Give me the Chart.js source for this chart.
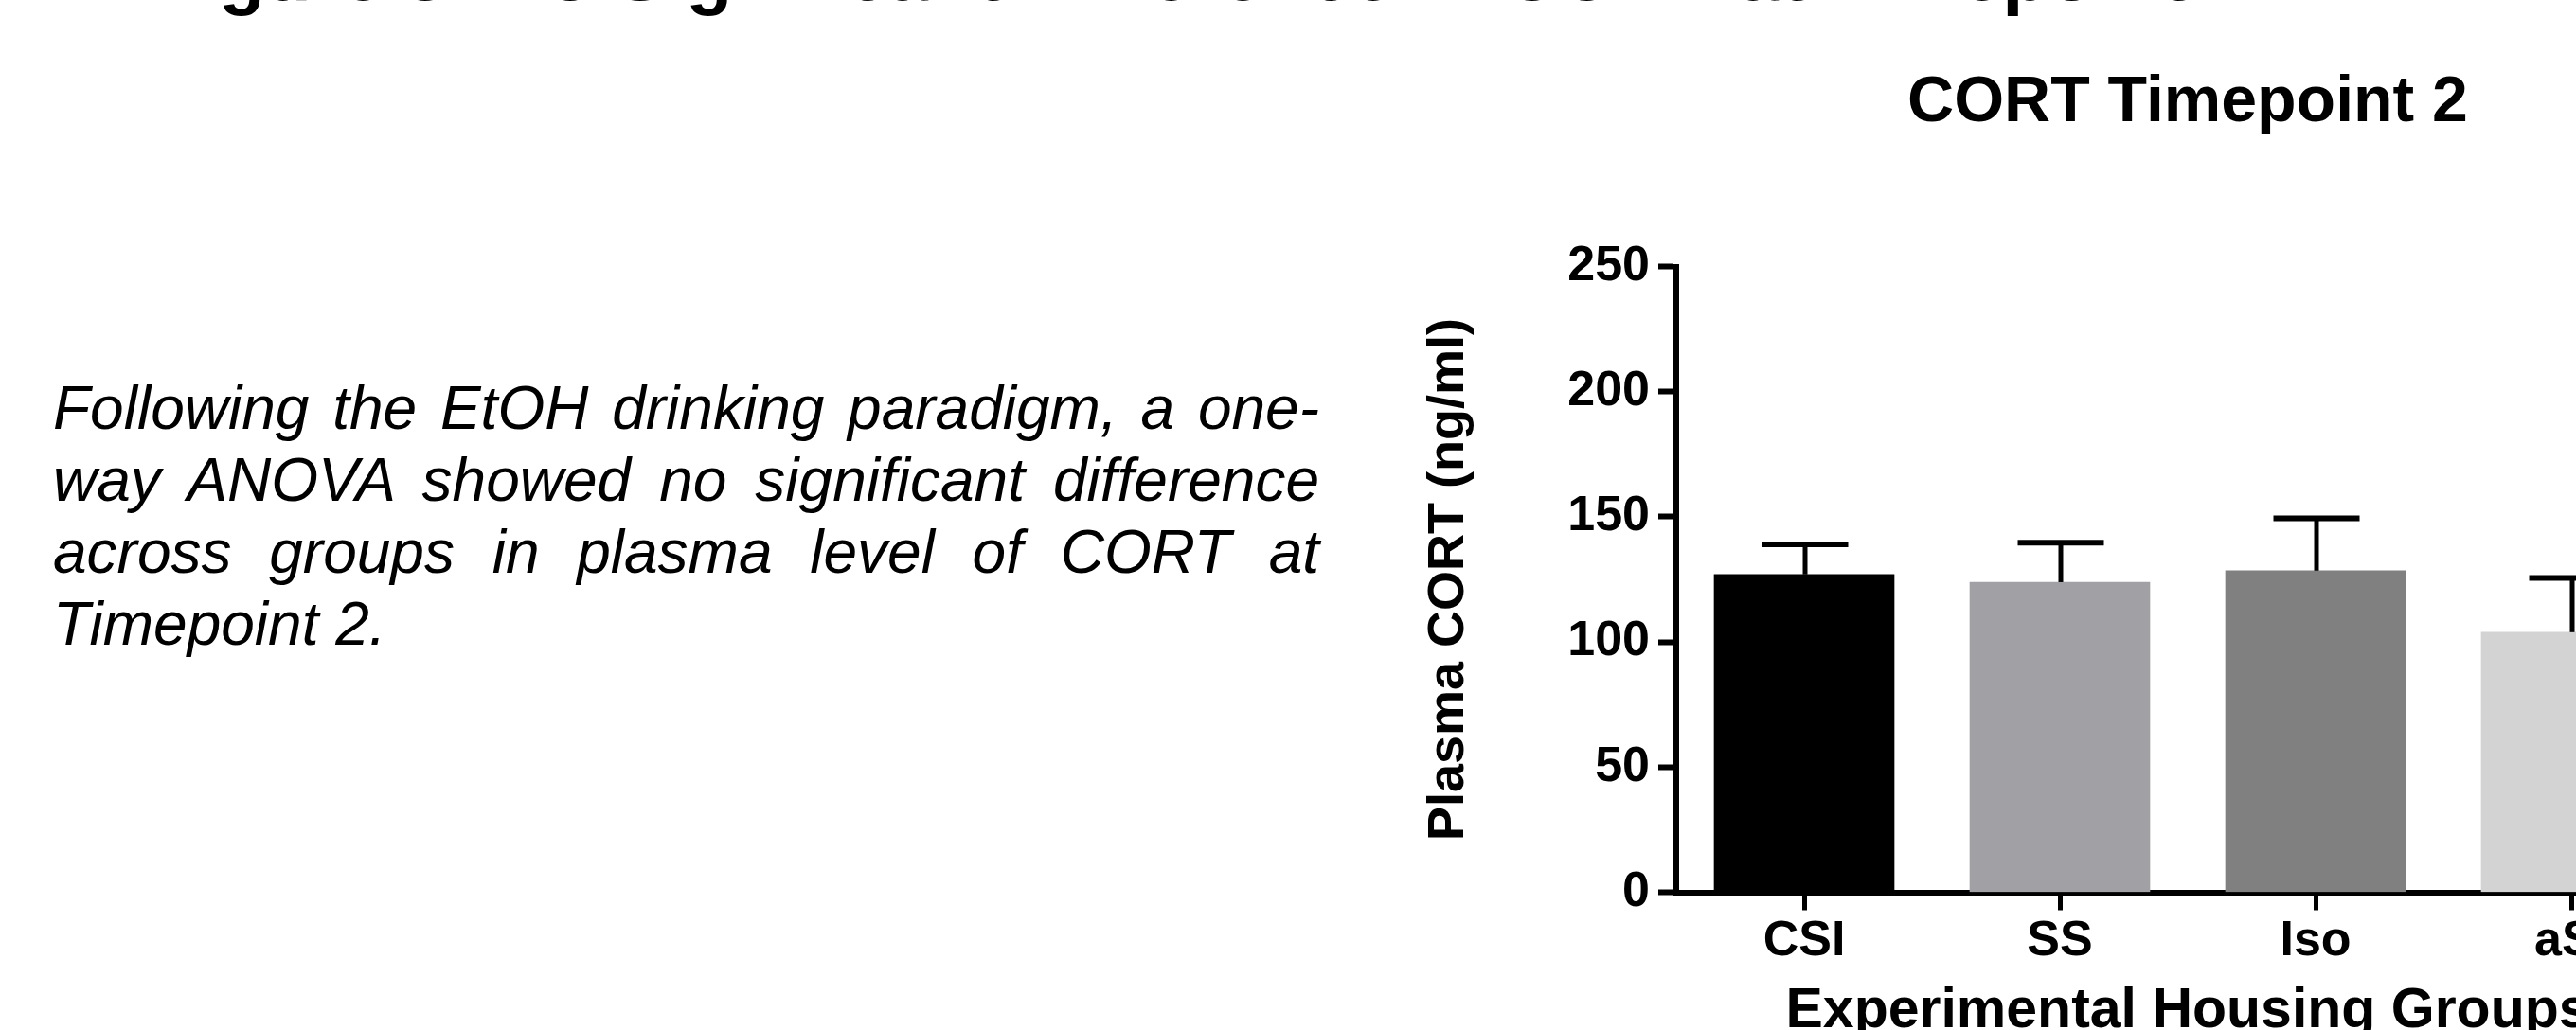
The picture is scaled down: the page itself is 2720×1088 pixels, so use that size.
<!DOCTYPE html>
<html>
<head>
<meta charset="utf-8">
<script src="https://cdn.jsdelivr.net/npm/chart.js@4.4.1/dist/chart.umd.min.js"></script>
<style>
  html, body { margin: 0; padding: 0; background: #fff; }
  body { width: 2720px; height: 1088px; overflow: hidden; position: relative; font-family: "Liberation Sans", Arial, sans-serif; color: #000; }
  #cabecalho { position: absolute; left: 160px; top: -67px; font-weight: bold; font-size: 80px; line-height: 80px; white-space: nowrap; }
  #texto { position: absolute; left: 56px; top: 393px; width: 1337px; font-style: italic; font-size: 64px; line-height: 76px; }
  #texto div { text-align: justify; text-align-last: justify; }
  #texto div.ultima { text-align-last: left; }
  #caixa { position: absolute; left: 1400px; top: 0; width: 1808px; height: 1150px; }
</style>
</head>
<body>
<div id="cabecalho">Figure 3: No Significant Difference in CORT at Timepoint 2</div>
<div id="texto">
  <div>Following the EtOH drinking paradigm, a one-</div>
  <div>way ANOVA showed no significant difference</div>
  <div>across groups in plasma level of CORT at</div>
  <div class="ultima">Timepoint 2.</div>
</div>
<div id="caixa"><canvas id="grafico" width="1808" height="1150"></canvas></div>
<script>
var grupos = ['CSI', 'SS', 'Iso', 'aSI'];
var medias = [127.0, 123.9, 128.5, 103.9];
var erros = [12.0, 15.8, 20.9, 21.7];
var cores = ['#000000', '#a1a0a5', '#808080', '#d3d3d3'];
var ticksY = [0, 50, 100, 150, 200, 250];

var fonte = '"Liberation Sans", Arial, sans-serif';

// barras de erro (so para cima, como no original)
var barrasErro = {
    id: 'barrasErro',
    afterDatasetsDraw: function(chart) {
        var ctx = chart.ctx;
        var y = chart.scales.y;
        var meta = chart.getDatasetMeta(0);
        ctx.save();
        ctx.strokeStyle = '#000';
        meta.data.forEach(function(bar, i) {
            var yMedia = y.getPixelForValue(medias[i]);
            var yTopo = y.getPixelForValue(medias[i] + erros[i]);
            var x = bar.x + 1;
            ctx.lineWidth = 5;
            ctx.beginPath();
            ctx.moveTo(x, yMedia);
            ctx.lineTo(x, yTopo);
            ctx.stroke();
            ctx.lineWidth = 6;
            ctx.beginPath();
            ctx.moveTo(x - 45.5, yTopo);
            ctx.lineTo(x + 45.5, yTopo);
            ctx.stroke();
        });
        ctx.restore();
    }
};

var ctx = document.getElementById('grafico').getContext('2d');
var myChart = new Chart(ctx, {
    type: 'bar',
    data: {
        labels: grupos,
        datasets: [{
            data: medias,
            backgroundColor: cores,
            borderWidth: 0,
            barThickness: 190
        }]
    },
    options: {
        responsive: false,
        animation: false,
        devicePixelRatio: 1,
        layout: {
            padding: { left: 0, right: 358, top: 0, bottom: 0 }
        },
        plugins: {
            legend: { display: false },
            tooltip: { enabled: false },
            title: {
                display: true,
                fullSize: false,
                text: 'CORT Timepoint 2',
                color: '#000',
                font: { family: fonte, size: 68, weight: 'bold' },
                padding: { top: 68, bottom: 132 }
            }
        },
        scales: {
            x: {
                grid: {
                    display: true,
                    drawOnChartArea: false,
                    offset: false,
                    drawTicks: true,
                    tickLength: 19,
                    tickWidth: 5,
                    tickColor: '#000'
                },
                border: { display: true, color: '#000', width: 6 },
                ticks: {
                    color: '#000',
                    padding: 2,
                    font: { family: fonte, size: 52, weight: 'bold' }
                },
                title: {
                    display: true,
                    text: 'Experimental Housing Groups',
                    color: '#000',
                    font: { family: fonte, size: 59, weight: 'bold' },
                    padding: { top: 0, bottom: 46 }
                },
                afterFit: function(s) { s.height = 207.5; }
            },
            y: {
                min: 0,
                max: 250,
                afterBuildTicks: function(s) {
                    s.ticks = ticksY.map(function(v) { return { value: v }; });
                },
                grid: {
                    display: true,
                    drawOnChartArea: false,
                    drawTicks: true,
                    tickLength: 19,
                    tickWidth: 6,
                    tickColor: '#000'
                },
                border: { display: true, color: '#000', width: 6 },
                ticks: {
                    color: '#000',
                    padding: 9,
                    font: { family: fonte, size: 52, weight: 'bold' }
                },
                title: {
                    display: true,
                    text: 'Plasma CORT (ng/ml)',
                    color: '#000',
                    font: { family: fonte, size: 54, weight: 'bold' },
                    padding: { top: 98, bottom: 0 }
                },
                afterFit: function(s) { s.width = 370; }
            }
        }
    },
    plugins: [barrasErro]
});
</script>
</body>
</html>
